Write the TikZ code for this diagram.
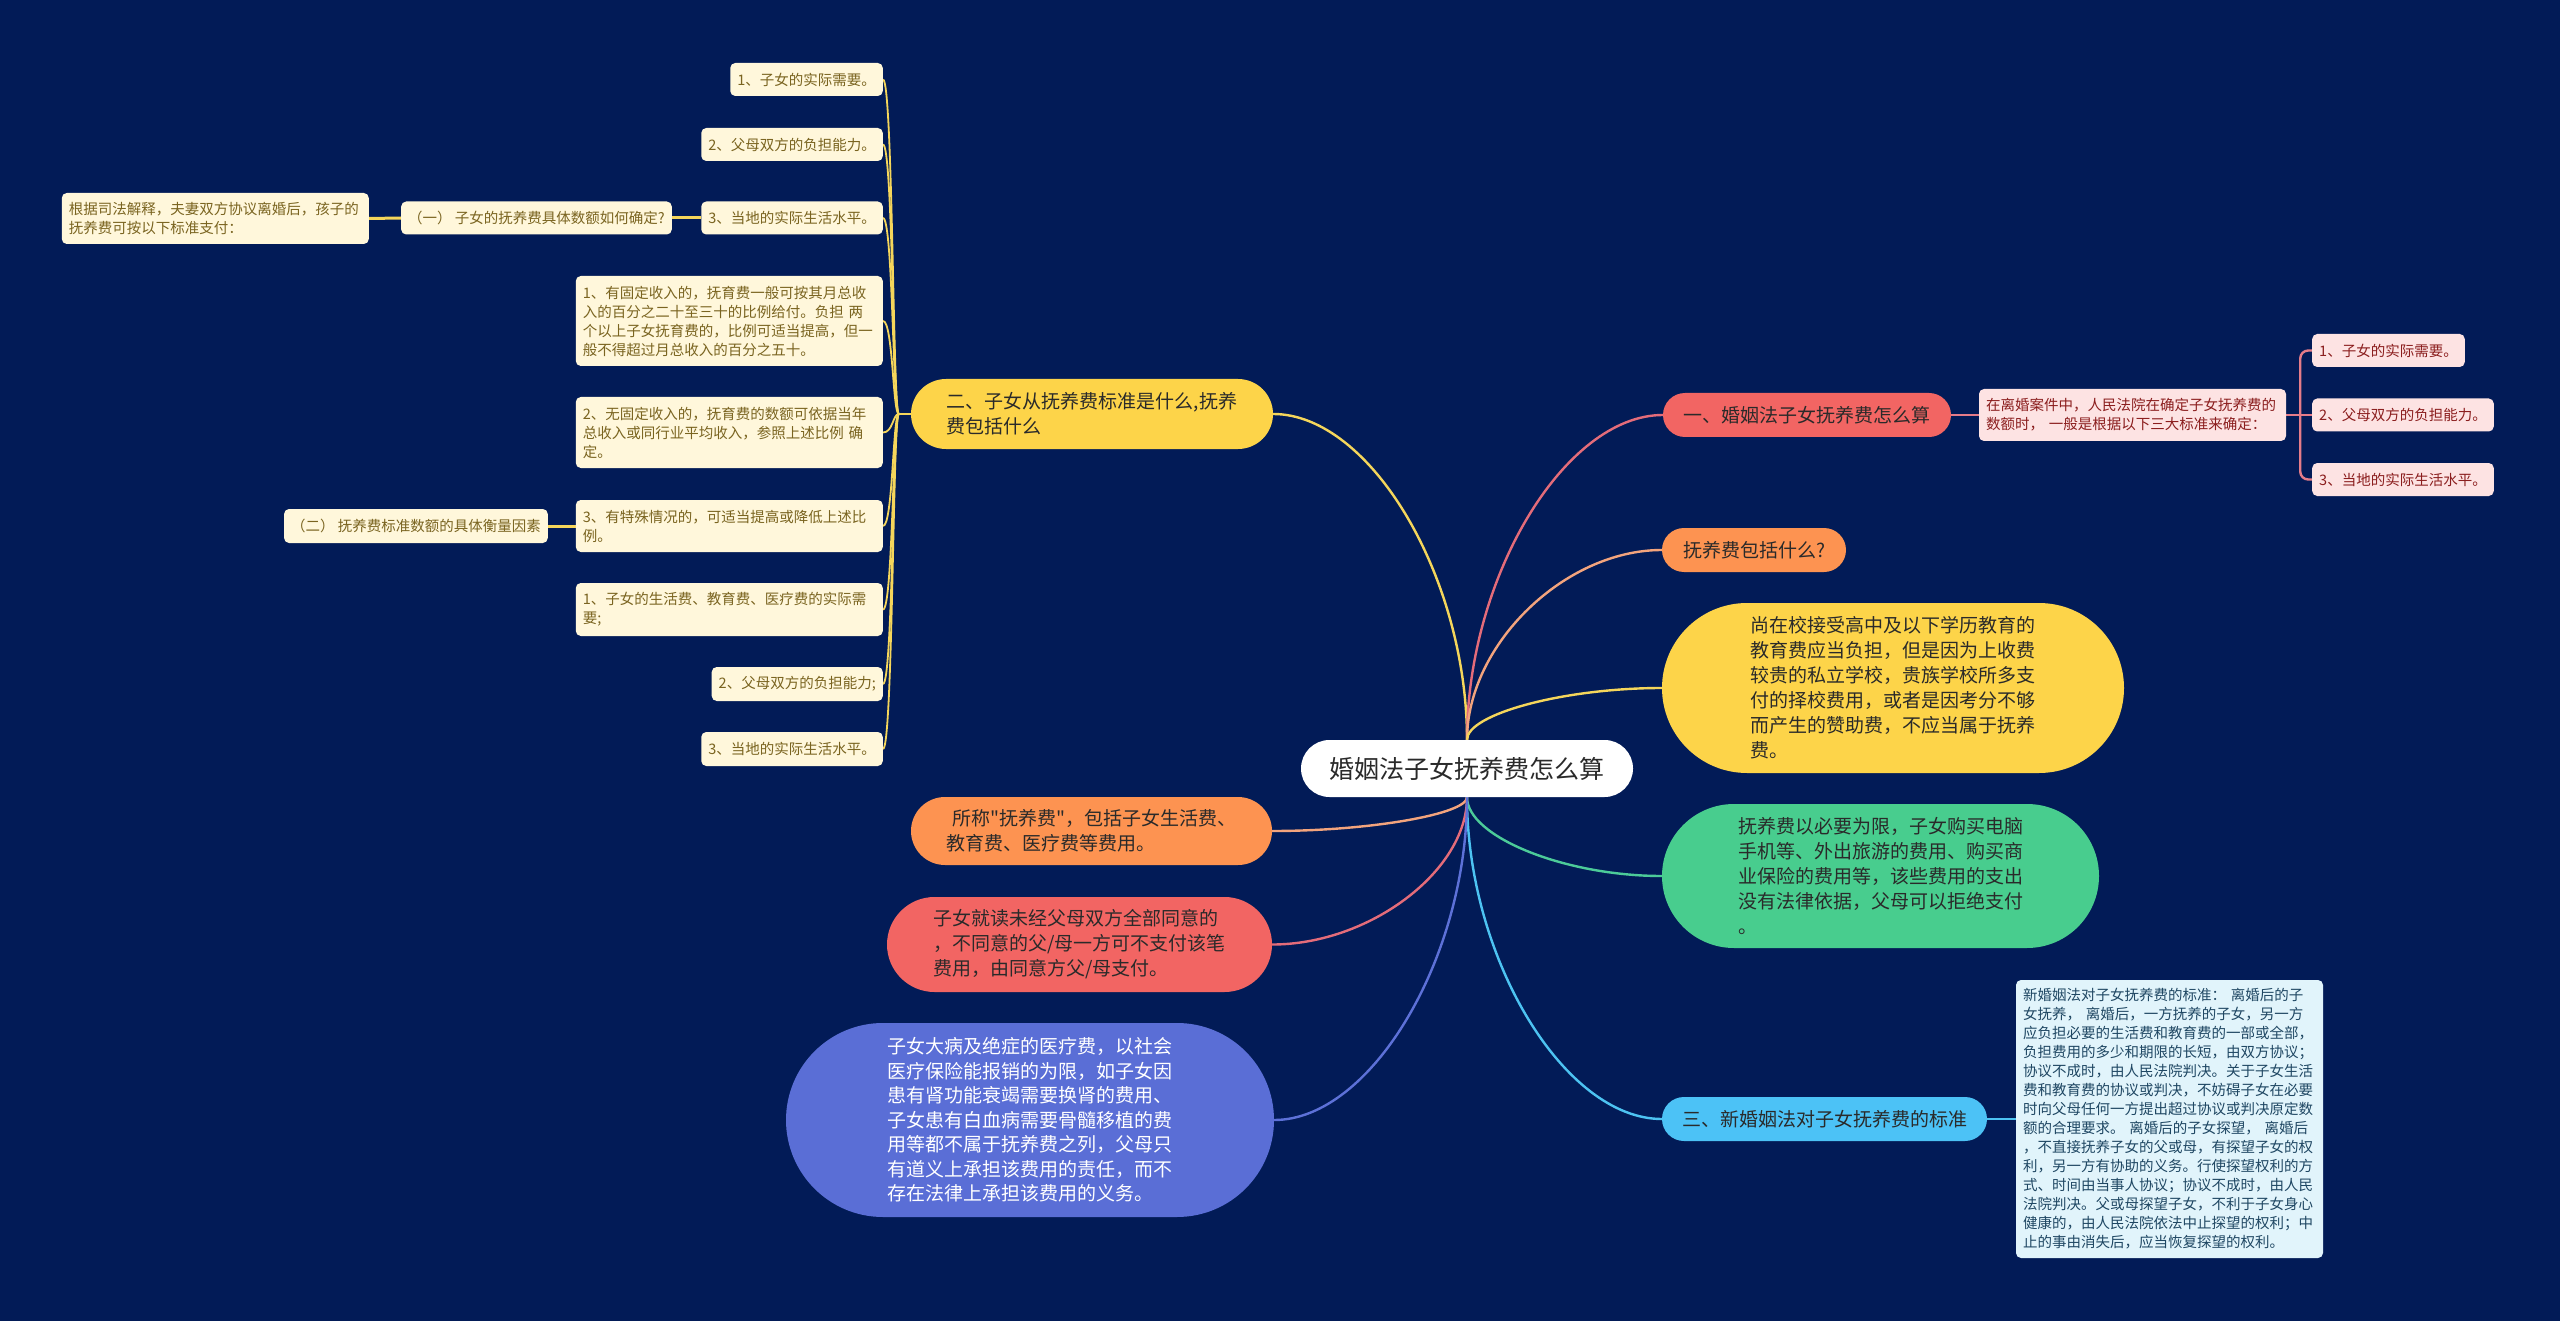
\documentclass[tikz,border=0pt]{standalone}
\usepackage{fontspec}
\setmainfont{Noto Sans CJK SC}
\newfontfamily\cjkplain{Noto Sans CJK SC}
\usetikzlibrary{calc}
\definecolor{bgc}{HTML}{021B57}
\definecolor{ylc}{HTML}{F5D65B}
\definecolor{redl}{HTML}{E46C7A}
\definecolor{orl}{HTML}{F3A47D}
\definecolor{grl}{HTML}{4CCB99}
\definecolor{cyl}{HTML}{4DC3F2}
\definecolor{pul}{HTML}{5D71D8}
\definecolor{pkl}{HTML}{E57C89}
\definecolor{redf}{HTML}{F26563}
\definecolor{orf}{HTML}{FD9351}
\definecolor{yef}{HTML}{FDD449}
\definecolor{grf}{HTML}{48CD8E}
\definecolor{cyf}{HTML}{4CC2F6}
\definecolor{puf}{HTML}{5A6ED6}
\definecolor{creamf}{HTML}{FFF7DB}
\definecolor{creamt}{HTML}{7A6420}
\definecolor{pinkf}{HTML}{FDE3E3}
\definecolor{pinkt}{HTML}{8B1E1E}
\definecolor{lbf}{HTML}{E1F4FB}
\definecolor{lbt}{HTML}{1F4763}
\definecolor{darkt}{HTML}{2A2A2A}
\newcommand\myfs[2]{\fontsize{#1pt}{#2pt}\selectfont}
\newcommand\mydq{{\cjkplain"}}
\pgfdeclarelayer{bglayer}
\pgfdeclarelayer{edgelayer}
\pgfsetlayers{bglayer,edgelayer,main}
\begin{document}
\begin{tikzpicture}[x=1pt,y=-1pt,
  every node/.style={inner xsep=7pt, inner ysep=4pt, align=left},
  hv/.style={to path={.. controls ($(\tikztostart)!0.5!(\tikztostart|-\tikztotarget)$) and ($(\tikztotarget)!0.5!(\tikztotarget-|\tikztostart)$) .. (\tikztotarget)}},
  leaf/.style={fill=creamf, text=creamt, rounded corners=5pt, font=\myfs{14.5}{19}},
  pinkbox/.style={fill=pinkf, text=pinkt, rounded corners=5pt, font=\myfs{14.5}{19}},
  lbbox/.style={fill=lbf, text=lbt, rounded corners=5pt, font=\myfs{14.5}{19}},
  mainf/.style={font=\myfs{19}{25}, text=darkt},
  edgeln/.style={line width=2.4pt},
  trunk/.style={line width=1.8pt, draw=ylc},
  thickln/.style={line width=3pt, draw=ylc}]
\useasboundingbox (0,0) rectangle (2560,1321);
\begin{pgfonlayer}{bglayer}
\fill[bgc] (0,0) rectangle (2560,1321);
\end{pgfonlayer}

% center
\node[fill=white, text=darkt, font=\myfs{25}{30}, minimum width=332pt, minimum height=57pt, rounded corners=28.5pt, align=center] (C) at (1467,768.5) {婚姻法子女抚养费怎么算};

% right side
\node[mainf, fill=redf, minimum width=288pt, minimum height=44pt, rounded corners=22pt, align=center] (B1) at (1807,415) {一、婚姻法子女抚养费怎么算};
\node[pinkbox, text width=293pt, minimum height=52pt] (PB) at (2132.5,415) {在离婚案件中，人民法院在确定子女抚养费的\\数额时， 一般是根据以下三大标准来确定：};
\node[pinkbox, anchor=west, minimum height=33pt] (R1) at (2312,350.5) {1、子女的实际需要。};
\node[pinkbox, anchor=west, minimum height=33pt] (R2) at (2312,415) {2、父母双方的负担能力。};
\node[pinkbox, anchor=west, minimum height=33pt] (R3) at (2312,479.5) {3、当地的实际生活水平。};
\coordinate (PJ) at ($(PB.east)+(14,0)$);

\node[mainf, fill=orf, minimum width=184pt, minimum height=44pt, rounded corners=22pt, align=center] (B2) at (1754,550) {抚养费包括什么?};
\node[mainf, fill=yef, minimum width=462pt, minimum height=170pt, rounded corners=85pt] (B3) at (1893,688) {尚在校接受高中及以下学历教育的\\教育费应当负担，但是因为上收费\\较贵的私立学校，贵族学校所多支\\付的择校费用，或者是因考分不够\\而产生的赞助费，不应当属于抚养\\费。};
\node[mainf, fill=grf, minimum width=437pt, minimum height=144pt, rounded corners=72pt] (B4) at (1880.5,876) {抚养费以必要为限，子女购买电脑\\手机等、外出旅游的费用、购买商\\业保险的费用等，该些费用的支出\\没有法律依据，父母可以拒绝支付\\。};
\node[mainf, fill=cyf, minimum width=325pt, minimum height=44pt, rounded corners=22pt, align=center] (B5) at (1824.5,1119) {三、新婚姻法对子女抚养费的标准};
\node[lbbox, text width=293pt, minimum height=278pt] (LB) at (2169.5,1119) {新婚姻法对子女抚养费的标准： 离婚后的子\\女抚养， 离婚后，一方抚养的子女，另一方\\应负担必要的生活费和教育费的一部或全部，\\负担费用的多少和期限的长短，由双方协议；\\协议不成时，由人民法院判决。关于子女生活\\费和教育费的协议或判决，不妨碍子女在必要\\时向父母任何一方提出超过协议或判决原定数\\额的合理要求。 离婚后的子女探望， 离婚后\\，不直接抚养子女的父或母，有探望子女的权\\利，另一方有协助的义务。行使探望权利的方\\式、时间由当事人协议；协议不成时，由人民\\法院判决。父或母探望子女，不利于子女身心\\健康的，由人民法院依法中止探望的权利；中\\止的事由消失后，应当恢复探望的权利。};

% left side
\node[mainf, fill=yef, minimum width=362pt, minimum height=70pt, rounded corners=35pt] (Y2) at (1092,414) {二、子女从抚养费标准是什么,抚养\\费包括什么};
\node[mainf, fill=orf, minimum width=361pt, minimum height=68pt, rounded corners=34pt] (O2) at (1091.5,831) {\hspace*{6pt}所称\mydq 抚养费\mydq ，包括子女生活费、\\教育费、医疗费等费用。};
\node[mainf, fill=redf, minimum width=385pt, minimum height=95pt, rounded corners=47.5pt] (RL) at (1079.5,944.5) {子女就读未经父母双方全部同意的\\，不同意的父/母一方可不支付该笔\\费用，由同意方父/母支付。};
\node[font=\myfs{19}{24.5}, text=white, fill=puf, minimum width=488pt, minimum height=194pt, rounded corners=97pt] (P) at (1030,1120) {子女大病及绝症的医疗费，以社会\\医疗保险能报销的为限，如子女因\\患有肾功能衰竭需要换肾的费用、\\子女患有白血病需要骨髓移植的费\\用等都不属于抚养费之列，父母只\\有道义上承担该费用的责任，而不\\存在法律上承担该费用的义务。};

\node[leaf, anchor=east, minimum height=33pt] (L1) at (883,79.5) {1、子女的实际需要。};
\node[leaf, anchor=east, minimum height=33pt] (L2) at (883,144.5) {2、父母双方的负担能力。};
\node[leaf, anchor=east, minimum height=33pt] (L3) at (883,218) {3、当地的实际生活水平。};
\node[leaf, anchor=east, text width=293pt, minimum height=90pt] (L4) at (883,321) {1、有固定收入的，抚育费一般可按其月总收\\入的百分之二十至三十的比例给付。负担 两\\个以上子女抚育费的，比例可适当提高，但一\\般不得超过月总收入的百分之五十。};
\node[leaf, anchor=east, text width=293pt, minimum height=71pt] (L5) at (883,432.5) {2、无固定收入的，抚育费的数额可依据当年\\总收入或同行业平均收入，参照上述比例 确\\定。};
\node[leaf, anchor=east, text width=293pt, minimum height=52pt] (L6) at (883,526) {3、有特殊情况的，可适当提高或降低上述比\\例。};
\node[leaf, anchor=east, text width=293pt, minimum height=53pt] (L7) at (883,609.5) {1、子女的生活费、教育费、医疗费的实际需\\要;};
\node[leaf, anchor=east, minimum height=34pt] (L8) at (883,684) {2、父母双方的负担能力;};
\node[leaf, anchor=east, minimum height=34pt] (L9) at (883,749) {3、当地的实际生活水平。};
\node[leaf, anchor=east, minimum height=33pt] (G1) at (672,218) {（一） 子女的抚养费具体数额如何确定?};
\node[leaf, anchor=east, text width=293pt, minimum height=51pt] (G0) at (369,218.5) {根据司法解释，夫妻双方协议离婚后，孩子的\\抚养费可按以下标准支付：};
\node[leaf, anchor=east, minimum height=34pt] (G2) at (548,526) {（二） 抚养费标准数额的具体衡量因素};
\coordinate (J) at ($(Y2.west)+(-12,0)$);

\begin{pgfonlayer}{edgelayer}
\draw[edgeln, draw=ylc] (C.north) to[hv] (Y2.east);
\draw[edgeln, draw=redl] (C.north) to[hv] (B1.west);
\draw[edgeln, draw=orl] (C.north) to[hv] (B2.west);
\draw[edgeln, draw=ylc] (C.north) to[hv] (B3.west);
\draw[edgeln, draw=grl] (C.south) to[hv] (B4.west);
\draw[edgeln, draw=cyl] (C.south) to[hv] (B5.west);
\draw[edgeln, draw=orl] (C.south) to[hv] (O2.east);
\draw[edgeln, draw=redl] (C.south) to[hv] (RL.east);
\draw[edgeln, draw=pul] (C.south) to[hv] (P.east);

\draw[edgeln, draw=pkl] (B1.east) -- (PB.west);
\draw[edgeln, draw=pkl] (PB.east) -- (R2.west);
\draw[edgeln, draw=pkl, rounded corners=8pt] (PJ) |- (R1.west);
\draw[edgeln, draw=pkl, rounded corners=8pt] (PJ) |- (R3.west);
\draw[edgeln, draw=cyl] (B5.east) -- (LB.west);

\draw[trunk] (Y2.west) -- (J);
\foreach \n in {L1,L2,L3,L4,L5,L6,L7,L8,L9}
  \draw[trunk] (J) .. controls ($(J)+(-6,0)$) and ($(\n.east)+(10,0)$) .. (\n.east);
\draw[thickln] (L3.west) -- (G1.east);
\draw[thickln] (G1.west) -- (G0.east);
\draw[thickln] (L6.west) -- (G2.east);
\end{pgfonlayer}
\end{tikzpicture}
\end{document}
